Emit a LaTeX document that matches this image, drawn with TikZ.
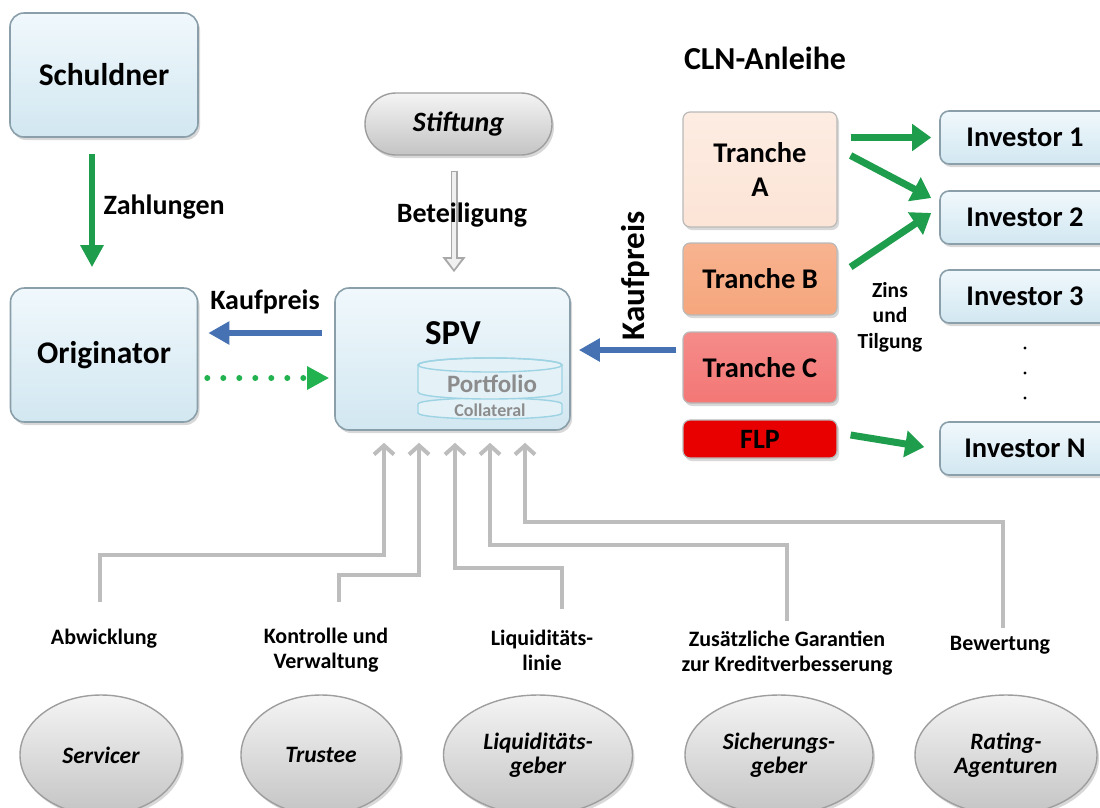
\documentclass[tikz,border=0pt]{standalone}
\usepackage{fontspec}
\setmainfont{Carlito}
\usetikzlibrary{arrows.meta,shadows,shapes.geometric}

\definecolor{boxtop}{HTML}{F0F8FC}
\definecolor{boxbot}{HTML}{D2E7F1}
\definecolor{boxline}{HTML}{8A9FAA}
\definecolor{flowgreen}{HTML}{1E9E4C}
\definecolor{dotgreen}{HTML}{22B24F}
\definecolor{flowblue}{HTML}{4672B3}
\definecolor{linkgray}{HTML}{BDBDBD}
\definecolor{pilltop}{HTML}{F4F4F4}
\definecolor{pillbot}{HTML}{C4C4C4}
\definecolor{pillline}{HTML}{9E9E9E}
\definecolor{cylfill}{HTML}{E4F2F8}
\definecolor{cylline}{HTML}{9DD3E3}
\definecolor{cyltext}{HTML}{8C8C8C}
\definecolor{trancheA}{HTML}{FCE4D6}
\definecolor{trancheB}{HTML}{F6A67C}
\definecolor{trancheC}{HTML}{F37775}
\definecolor{flpred}{HTML}{E80000}

\newcommand\fsz[2]{\fontsize{#1}{#2}\selectfont}

\begin{document}
\begin{tikzpicture}[x=1pt,y=-1pt,
  party/.style={rounded corners=14pt, draw=boxline, line width=1.6pt,
    top color=boxtop, bottom color=boxbot, inner sep=0pt,
    drop shadow={shadow xshift=2pt, shadow yshift=-3pt, opacity=.3}},
  investor/.style={party, rounded corners=9pt, minimum width=170pt,
    minimum height=53pt, font=\fsz{28.5}{33}\bfseries},
  pill/.style={rounded corners=31pt, draw=pillline, line width=1.4pt,
    top color=pilltop, bottom color=pillbot, inner sep=0pt,
    drop shadow={shadow xshift=2pt, shadow yshift=-3pt, opacity=.3}},
  oval/.style={ellipse, draw=pillline, line width=1.4pt,
    top color=pilltop, bottom color=pillbot, inner sep=0pt,
    minimum height=120pt, align=center,
    font=\fsz{23.5}{24}\bfseries\itshape,
    drop shadow={shadow xshift=2pt, shadow yshift=-3pt, opacity=.3}},
  tranche/.style={draw=gray!55, line width=1.2pt, rounded corners=7pt,
    minimum width=154pt, inner sep=0pt, align=center,
    font=\fsz{28.5}{34}\bfseries,
    drop shadow={shadow xshift=2pt, shadow yshift=-3pt, opacity=.3}},
  label/.style={font=\fsz{28}{32}\bfseries},
  note/.style={font=\fsz{22}{25}\bfseries, align=center},
  gflow/.style={draw=flowgreen, line width=7pt,
    -{Triangle[length=19pt,width=26pt]}},
  bflow/.style={draw=flowblue, line width=5.5pt,
    -{Triangle[length=21pt,width=22pt]}},
  link/.style={draw=linkgray, line width=4pt,
    -{Straight Barb[length=9pt,width=20pt]}},
]
\useasboundingbox (0,0) rectangle (1100,807);
\clip (0,0) rectangle (1100,807);
\fill[white] (0,0) rectangle (1100,807);

% --- parties on the left and the SPV ---
\node[party, minimum width=188pt, minimum height=124pt,
      font=\fsz{31.5}{36}\bfseries] (sch) at (104,75) {Schuldner};
\node[party, minimum width=187pt, minimum height=134pt,
      font=\fsz{31.5}{36}\bfseries] (orig) at (104,355) {Originator};
\node[party, minimum width=235pt, minimum height=142pt] (spv) at (452.5,359) {};
\node[font=\fsz{35}{40}\bfseries] (spvname) at (453,333) {SPV};

% portfolio / collateral discs inside the SPV
\begin{scope}[draw=cylline, line width=1.4pt]
  \filldraw[fill=cylfill] (418,404) -- (418,413)
    arc[start angle=180, end angle=0, x radius=72, y radius=6] -- (562,404)
    arc[start angle=0, end angle=-180, x radius=72, y radius=6] -- cycle;
  \filldraw[fill=cylfill] (418,365) -- (418,392)
    arc[start angle=180, end angle=0, x radius=72, y radius=7] -- (562,365)
    arc[start angle=0, end angle=-180, x radius=72, y radius=7] -- cycle;
  \draw (490,365) ellipse[x radius=72, y radius=7];
\end{scope}
\node[font=\fsz{25}{30}\bfseries, text=cyltext] (port) at (492,384) {Portfolio};
\node[font=\fsz{18}{20}\bfseries, text=cyltext] (coll) at (490,410) {Collateral};

\node[pill, minimum width=187pt, minimum height=62pt,
      font=\fsz{28}{32}\bfseries\itshape] (stift) at (458.5,124) {Stiftung};

% --- CLN tranches and investors ---
\node[font=\fsz{32}{36}\bfseries] (cln) at (765,58) {CLN-Anleihe};
\node[tranche, top color=trancheA!70!white, bottom color=trancheA,
      minimum height=115pt] (trA) at (760,169.5) {Tranche\\A};
\node[tranche, top color=trancheB!85!white, bottom color=trancheB,
      minimum height=72pt] (trB) at (760,279) {Tranche B};
\node[tranche, top color=trancheC!85!white, bottom color=trancheC,
      minimum height=71pt] (trC) at (760,367.5) {Tranche C};
\node[tranche, fill=flpred, minimum height=38pt,
      font=\fsz{28}{30}\bfseries] (flp) at (760,439) {FLP};

\node[investor] (inv1) at (1025,137.5) {Investor 1};
\node[investor] (inv2) at (1025,217.5) {Investor 2};
\node[investor] (inv3) at (1025,296.5) {Investor 3};
\node[investor] (invN) at (1025,448.5) {Investor N};
\fill (1025,348) circle (1.6pt) (1025,373) circle (1.6pt) (1025,398) circle (1.6pt);

\node[font=\fsz{21.5}{25.5}\bfseries, align=center] (zins) at (890,317) {Zins\\und\\Tilgung};

% --- payment flows ---
\draw[draw=flowgreen, line width=6pt, -{Triangle[length=22pt,width=22pt]}]
  ([xshift=-12pt,yshift=-16pt]sch.south) -- ([xshift=-12pt,yshift=20pt]orig.north);
\node[label, anchor=west] (zahl) at (100,207) {Zahlungen};

\draw[bflow] ([xshift=-12pt,yshift=26pt]spv.west) -- ([xshift=10pt,yshift=22pt]orig.east);
\node[label] (kauf1) at (265,302) {Kaufpreis};

\draw[draw=dotgreen, line width=6pt, line cap=round, dash pattern=on 0pt off 16pt,
      -{Triangle[length=22pt,width=22pt]}]
  ([xshift=9pt,yshift=-23pt]orig.east) -- ([xshift=-5pt,yshift=-19pt]spv.west);

\draw[bflow] ([xshift=-6pt,yshift=17.5pt]trC.west) -- ([xshift=8pt,yshift=9pt]spv.east);
\node[font=\fsz{33}{36}\bfseries, rotate=90] (kauf2) at (636,276) {Kaufpreis};

% hollow grey arrow for the foundation's stake
\draw[draw=pillline!90, line width=7pt, -{Triangle[length=15pt,width=22pt]}]
  ([xshift=-4.5pt,yshift=-15pt]stift.south) -- ([xshift=1.5pt,yshift=15pt]spv.north);
\draw[draw=gray!12, line width=3.5pt, shorten >=3pt, shorten <=1.5pt,
      -{Triangle[length=10pt,width=14pt]}]
  ([xshift=-4.5pt,yshift=-15pt]stift.south) -- ([xshift=1.5pt,yshift=15pt]spv.north);
\node[label] (bet) at (462,215) {Beteiligung};

\draw[gflow] ([xshift=13pt,yshift=32pt]trA.east) -- ([xshift=-8pt]inv1.west);
\draw[gflow] ([xshift=13pt,yshift=14pt]trA.east) -- ([xshift=-8pt,yshift=19.5pt]inv2.west);
\draw[gflow] ([xshift=13pt,yshift=12pt]trB.east) -- ([xshift=-8pt,yshift=4.5pt]inv2.west);
\draw[gflow] ([xshift=13pt,yshift=4pt]flp.east) -- ([xshift=-15pt,yshift=1.5pt]invN.west);

% --- service providers below ---
\node[oval, minimum width=162pt] (serv) at (101,755) {Servicer};
\node[oval, minimum width=160pt] (trus) at (321,755) {Trustee};
\node[oval, minimum width=189pt] (liq) at (538,755) {Liquiditäts-\\geber};
\node[oval, minimum width=188pt] (sich) at (779,755) {Sicherungs-\\geber};
\node[oval, minimum width=182pt] (rat) at (1006,755) {Rating-\\Agenturen};

\node[note] (abw) at (104,639) {Abwicklung};
\node[note] (kontr) at (326,650) {Kontrolle und\\Verwaltung};
\node[note] (liql) at (542,650) {Liquiditäts-\\linie};
\node[note] (zus) at (787,653) {Zusätzliche Garantien\\zur Kreditverbesserung};
\node[note] (bew) at (1000,645) {Bewertung};

\coordinate (e1) at (100,602);
\coordinate (e2) at (339,602);
\coordinate (e3) at (562,609);
\coordinate (e4) at (787,621);
\coordinate (e5) at (1003,628);

\draw[link] (e1) |- ++(284,-47) -- ([xshift=-68.5pt,yshift=-12pt]spv.south);
\draw[link] (e2) |- ++(80,-27) -- ([xshift=-33.5pt,yshift=-12pt]spv.south);
\draw[link] (e3) |- ++(-107,-41) -- ([xshift=2.5pt,yshift=-12pt]spv.south);
\draw[link] (e4) |- ++(-297,-76) -- ([xshift=37.5pt,yshift=-12pt]spv.south);
\draw[link] (e5) |- ++(-478,-106) -- ([xshift=72.5pt,yshift=-12pt]spv.south);
\end{tikzpicture}
\end{document}
